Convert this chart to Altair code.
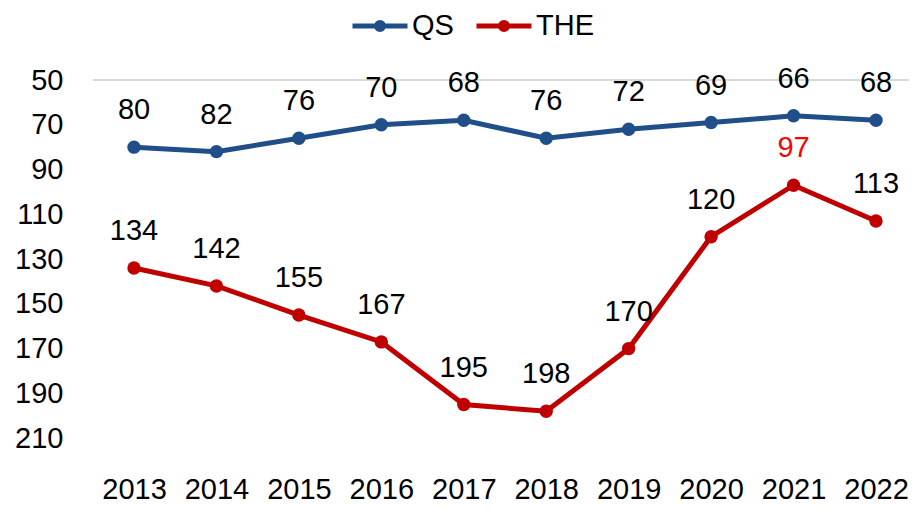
import altair as alt
import pandas as pd

years = ["2013", "2014", "2015", "2016", "2017", "2018", "2019", "2020", "2021", "2022"]
qs = [80, 82, 76, 70, 68, 76, 72, 69, 66, 68]
the = [134, 142, 155, 167, 195, 198, 170, 120, 97, 113]
series_names = ["QS", "THE"]
series_colors = ["#1F4E89", "#C00000"]
y_ticks = [50, 70, 90, 110, 130, 150, 170, 190, 210]

rows = []
for name, vals in zip(series_names, [qs, the]):
    for yr, v in zip(years, vals):
        lc = "#FF0000" if (name == "THE" and yr == "2021") else "#000000"
        rows.append({"year": yr, "rank": v, "series": name, "lc": lc})
df = pd.DataFrame(rows)

FONT = "Liberation Sans"
FS = 29
W, H = 816, 385
ydom = [50, 222]

x = alt.X("year:O", scale=alt.Scale(type="point", range=[41, 783], padding=0),
          axis=alt.Axis(title=None, labelAngle=0, ticks=False, domain=False,
                        labelFontSize=FS, labelFont=FONT, labelColor="#000000",
                        labelPadding=10))
y = alt.Y("rank:Q", scale=alt.Scale(domain=ydom, reverse=True, nice=False, zero=False),
          axis=alt.Axis(title=None, values=y_ticks, grid=False, ticks=False, domain=False,
                        labelFontSize=FS, labelFont=FONT, labelColor="#000000",
                        labelPadding=30))

grid = alt.Chart(pd.DataFrame({"v": [50]})).mark_rule(color="#D9D9D9", strokeWidth=2).encode(
    y=alt.Y("v:Q", scale=alt.Scale(domain=ydom, reverse=True, nice=False, zero=False)),
    x=alt.value(0), x2=alt.value(W)
)

legend_path = "M-1,0L1,0M-0.13,0A0.13,0.13,0,1,1,0.13,0A0.13,0.13,0,1,1,-0.13,0"

lines = alt.Chart(df).mark_line(strokeWidth=5, point=alt.OverlayMarkDef(size=180, filled=True, opacity=1)).encode(
    x=x, y=y,
    color=alt.Color("series:N", scale=alt.Scale(domain=series_names, range=series_colors),
                    legend=alt.Legend(title=None, orient="none", direction="horizontal",
                                      legendX=257, legendY=-84,
                                      symbolType=legend_path, symbolSize=3025,
                                      symbolStrokeWidth=5, labelFontSize=FS, labelFont=FONT,
                                      labelColor="#000000", columnPadding=12, labelOffset=2))
)

labels = alt.Chart(df).mark_text(fontSize=FS, font=FONT, dy=-37, baseline="middle").encode(
    x=x, y=y, text="rank:Q",
    color=alt.Color("lc:N", scale=None)
)

chart = alt.layer(grid, lines, labels).resolve_scale(color="independent").properties(
    width=W, height=H,
    autosize=alt.AutoSizeParams(type="none"),
    padding={"left": 85, "top": 72, "right": 0, "bottom": 38},
).configure_view(stroke=None)

chart.save("out.html", embed_options={"renderer": "svg", "actions": False})
